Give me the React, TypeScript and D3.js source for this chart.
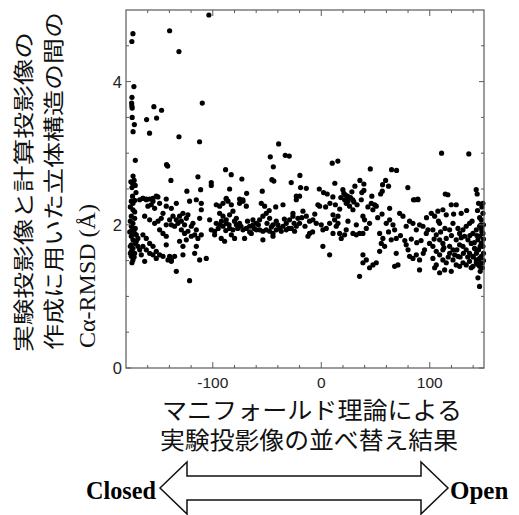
import React from 'react';
import { scaleLinear, range } from 'd3';

const width = 519;
const height = 515;
const margin = { top: 10, right: 35, bottom: 147, left: 126 };

// RMSD (Å) per re-ordered image position
const upperPoints: [number, number][] = [
  [-174.6, 4.56], [-173.6, 4.67], [-172.7, 3.93], [-174.5, 3.78], [-174.8, 3.7], [-174.6, 3.66],
  [-174.3, 3.63], [-174.3, 3.5], [-172.3, 3.4], [-173.5, 3.3], [-171.4, 2.9], [-161, 3.47],
  [-158.3, 3.28], [-154.3, 3.65], [-151.8, 3.49], [-147.2, 3.6], [-139.8, 4.71], [-131.2, 4.42],
  [-131.2, 3.23], [-109.7, 3.7], [-112.2, 3.16], [-103.6, 4.93], [-142.6, 2.84], [-141.6, 2.82],
  [-138.6, 2.62], [-123.9, 2.47], [-113.7, 2.67], [-111.2, 2.49], [-101.4, 2.59], [-101.4, 2.55],
  [-88.2, 2.77], [-83, 2.7], [-84.5, 2.5], [-73.2, 2.64], [-68.8, 2.44], [-54.4, 2.47], [-47, 2.95],
  [-44.2, 2.81], [-39.3, 3.13], [-45.5, 2.63], [-43.7, 2.61], [-33.2, 2.97], [-29.5, 2.96],
  [-27.7, 2.59], [-19.7, 2.69], [-19.1, 2.52], [-13.8, 2.51], [-23, 2.4], [-1.8, 2.5], [2.1, 2.45],
  [5.5, 2.43], [10.1, 2.86], [15.3, 2.89], [12.5, 2.58], [10.7, 2.39], [19.9, 2.49], [20.8, 2.44],
  [24.2, 2.4], [28.2, 2.46], [31, 2.54], [35.6, 2.62], [39.3, 2.57], [39.3, 2.48], [37.4, 2.45],
  [45.2, 2.78], [46.6, 2.4], [54.7, 2.43], [56.2, 2.47], [56.5, 2.56], [59.3, 2.62], [62, 2.54],
  [64.8, 2.77], [69.4, 2.76], [79.8, 2.52], [85, 2.35], [89, 2.36], [110.9, 3.0], [114.3, 2.43],
  [136, 2.99], [142.8, 2.49], [143.7, 2.43],
  [-175.5, 2.6], [-174, 2.58], [-172.5, 2.62], [-173.5, 2.68], [-171.5, 2.55], [-174.5, 2.52],
  [-164.4, 2.37], [-161.3, 2.36], [-155.2, 2.37], [-150.6, 2.39], [-142.9, 2.36],
  [-87.6, 2.36], [-75.3, 2.36], [-72.3, 2.35], [23, 2.35], [29.1, 2.35], [36.9, 2.35],
];

const leftEdge: [number, number][] = [
  [-175.1, 2.33], [-173.6, 2.3], [-172, 2.34], [-173.6, 2.21], [-175.1, 2.12], [-172, 2.09],
  [-173.6, 2.02], [-175.1, 1.98], [-174.2, 1.93], [-172, 1.88], [-175.1, 1.84], [-173.6, 1.79],
  [-171.2, 1.74], [-175.1, 1.72], [-173.6, 1.67], [-175.1, 1.63], [-172, 1.6], [-175.1, 1.56],
  [-173.6, 1.51], [-174.5, 1.47], [-170.5, 1.86], [-170.5, 1.77], [-169, 1.81], [-169, 1.7],
  [-167.4, 1.65], [-176, 2.25], [-176, 2.05], [-176.5, 1.9], [-176, 1.7], [-176, 1.6],
  [-172, 2.18], [-171.5, 1.95], [-172.5, 1.55], [-174, 2.4], [-170.8, 2.45],
];

const bandClosed: [number, number][] = [
  [-167.4, 2.35], [-164.4, 2.37], [-161.3, 2.35], [-158.2, 2.36], [-155.1, 2.33], [-152.1, 2.4],
  [-159.8, 2.26], [-156.7, 2.28], [-153.6, 2.23], [-149, 2.3], [-145.9, 2.16], [-142.9, 2.26],
  [-162.8, 2.12], [-158.2, 2.07], [-153.6, 2.02], [-150.5, 2.05], [-147.5, 2.09], [-142.9, 2.0],
  [-139.8, 2.07], [-149, 1.93], [-145.9, 1.88], [-142.9, 1.84], [-164.4, 1.86], [-161.3, 1.81],
  [-158.2, 1.74], [-155.1, 1.7], [-152.1, 1.63], [-149, 1.58], [-145.9, 1.56], [-164.4, 1.7],
  [-161.3, 1.65], [-158.2, 1.6], [-155.1, 1.58], [-152.1, 1.53], [-165.9, 1.58], [-162.8, 1.49],
  [-142.9, 1.72], [-139.8, 1.56], [-141.3, 1.51], [-138.2, 1.49], [-133.6, 1.35], [-121.4, 1.22],
  [-136.7, 2.12], [-133.6, 2.07], [-130.6, 2.12], [-127.5, 2.16], [-138.2, 2.0], [-135.2, 1.98],
  [-132.1, 2.02], [-129, 2.05], [-126, 2.0], [-124.4, 2.09], [-122.9, 2.14], [-119.8, 1.98],
  [-118.3, 2.02], [-115.2, 1.93], [-112.1, 2.09], [-110.6, 2.21], [-129, 1.93], [-126, 1.88],
  [-122.9, 1.91], [-119.8, 1.84], [-116.7, 1.86], [-113.7, 1.81], [-130.6, 1.77], [-127.5, 1.7],
  [-124.4, 1.79], [-115.2, 1.7], [-116.7, 1.6], [-112.1, 1.51], [-106, 1.53], [-135.2, 1.56],
  [-138.2, 1.51], [-127.5, 1.58], [-110.6, 1.86], [-102.9, 2.07], [-101.4, 1.93], [-98.3, 1.91],
  [-121.4, 2.33], [-115.2, 2.35], [-110.6, 2.3], [-138.2, 2.23], [-133.6, 2.3],
];

const bandMiddle: [number, number][] = [
  [-96.8, 2.28], [-93.7, 2.26], [-90.6, 2.3], [-87.6, 2.37], [-86, 2.33], [-82.9, 2.28],
  [-93.7, 2.16], [-90.6, 2.12], [-87.6, 2.07], [-84.5, 2.14], [-81.4, 2.19], [-78.3, 2.09],
  [-75.3, 2.3], [-72.2, 2.33], [-69.1, 2.26], [-96.8, 2.02], [-93.7, 2.0], [-90.6, 1.98],
  [-87.6, 2.02], [-84.5, 1.95], [-81.4, 1.93], [-78.3, 2.0], [-75.3, 2.02], [-72.2, 1.93],
  [-69.1, 1.95], [-66.1, 1.98], [-63, 2.0], [-59.9, 2.02], [-92.2, 1.81], [-89.1, 1.77],
  [-79.9, 1.81], [-82.9, 1.86], [-70.7, 1.81], [-64.5, 1.88], [-63, 2.07], [-59.9, 1.93],
  [-98.3, 1.86], [-95, 1.95], [-88, 1.92], [-85, 2.0], [-77, 1.95], [-74, 1.98], [-68, 2.05],
  [-66, 1.9], [-62, 1.95], [-92, 2.05], [-80, 2.05],
  [-56.8, 2.07], [-53.8, 2.12], [-50.7, 2.16], [-47.6, 2.09], [-44.5, 2.0], [-41.5, 2.05],
  [-38.4, 1.95], [-35.3, 1.98], [-32.3, 2.02], [-29.2, 2.07], [-26.1, 2.12], [-23, 1.98],
  [-56.8, 1.93], [-53.8, 1.91], [-50.7, 1.93], [-47.6, 1.91], [-44.5, 1.88], [-41.5, 1.93],
  [-36.9, 1.91], [-32.3, 1.93], [-27.6, 1.95], [-24.6, 1.91], [-53.8, 1.79], [-44.5, 1.84],
  [-35.3, 2.28], [-55.3, 2.3], [-52.2, 2.26], [-26.1, 2.16], [-23, 2.35], [-20, 2.4],
  [-21.5, 2.09], [-58, 2.0], [-50, 2.02], [-46, 1.97], [-40, 2.0], [-34, 2.08], [-30, 1.95],
  [-25, 2.02], [-48, 2.2], [-42, 2.25],
  [-16.9, 2.19], [-13.8, 2.12], [-10.8, 2.05], [-7.7, 2.07], [-4.6, 2.02], [-1.5, 2.26],
  [-3.1, 2.28], [0, 2.0], [1.5, 1.93], [4.6, 1.95], [7.7, 2.02], [10.8, 2.14], [12.3, 2.07],
  [15.4, 2.12], [13.8, 1.98], [16.9, 1.88], [10.8, 1.88], [-10.8, 1.88], [-12.3, 1.84],
  [1.5, 1.7], [7.7, 1.58], [-20, 2.02], [15.4, 2.02], [18.4, 1.81], [21.5, 1.86], [-15, 1.98],
  [-8, 1.9], [-18, 2.1], [4, 2.25], [8, 2.3], [13, 2.28], [17, 2.22], [-6, 2.15],
];

const bandOpen: [number, number][] = [
  [21.5, 2.35], [23, 2.3], [24.6, 2.33], [26.1, 2.26], [29.2, 2.21], [24.6, 2.05], [23, 1.93],
  [29.2, 1.88], [32.3, 1.86], [35.3, 1.88], [38.4, 1.88], [41.5, 1.95], [38.4, 2.12],
  [39.9, 2.07], [44.5, 2.02], [47.6, 2.21], [50.7, 2.26], [46.1, 2.3], [49.2, 2.28],
  [38.4, 1.58], [41.5, 1.51], [38.4, 1.47], [44.5, 1.4], [47.6, 1.44], [50.7, 1.47],
  [53.8, 1.63], [55.3, 1.74], [56.8, 1.81], [58.4, 1.7], [59.9, 2.02], [53.8, 1.88],
  [35.3, 1.28], [32.3, 2.0], [27, 2.38], [30, 2.32], [33, 2.28], [22, 2.42], [18, 2.38],
  [52, 2.1], [56, 2.15], [43, 2.25],
  [63, 2.07], [66.1, 2.0], [67.6, 1.93], [64.5, 1.79], [69.1, 1.81], [72.2, 2.16], [75.3, 2.12],
  [78.3, 1.98], [81.4, 2.05], [84.5, 2.02], [87.6, 1.93], [90.6, 2.0], [93.7, 1.98],
  [96.8, 1.88], [98.3, 1.93], [69.1, 1.6], [67.6, 1.42], [70.7, 1.44], [81.4, 1.56],
  [84.5, 1.53], [87.6, 1.58], [90.6, 1.51], [90.6, 1.37], [95.2, 1.65], [99.8, 1.74],
  [78.3, 1.72], [86, 2.35], [89.1, 2.35], [63, 2.23], [73, 1.85], [77, 1.78], [83, 1.8],
  [92, 1.78], [97, 2.1], [62, 1.9], [80, 1.65], [88, 1.75], [94, 1.6],
];

const rightEdge: [number, number][] = [
  [101.4, 2.16], [104.5, 2.12], [107.5, 2.19], [102.9, 1.93], [106, 1.86], [109.1, 1.79],
  [112.1, 1.74], [115.2, 1.81], [118.3, 1.7], [121.4, 1.65], [124.4, 1.79], [127.5, 1.72],
  [130.6, 1.7], [133.6, 1.65], [136.7, 1.6], [139.8, 1.56], [142.9, 1.51], [145.9, 1.53],
  [102.9, 1.7], [106, 1.63], [109.1, 1.58], [112.1, 1.51], [115.2, 1.47], [118.3, 1.6],
  [121.4, 1.51], [124.4, 1.44], [127.5, 1.42], [130.6, 1.47], [133.6, 1.44], [136.7, 1.49],
  [139.8, 1.42], [142.9, 1.47], [145.9, 1.42], [104.5, 1.4], [113.7, 1.37], [109.1, 1.33],
  [119.8, 1.35], [122.9, 1.58], [127.5, 1.88], [130.6, 1.93], [133.6, 1.98], [136.7, 2.02],
  [139.8, 1.88], [142.9, 1.93], [145.9, 1.98], [147.5, 2.07], [149, 2.16], [145.9, 1.84],
  [147.5, 1.74], [149, 1.7], [144.4, 1.79], [141.3, 1.67], [138.2, 1.74], [135.2, 1.79],
  [132.1, 1.84], [118.3, 1.93], [121.4, 2.02], [115.2, 2.14], [112.1, 2.21], [109.1, 2.02],
  [116.7, 2.42], [119.8, 2.28], [124.4, 2.28], [129, 2.16], [144.4, 1.26], [145.9, 1.14],
  [147.5, 1.56], [148.4, 1.47], [149, 1.88], [147.5, 1.95], [142.9, 1.65], [138.2, 1.4],
  [126, 1.56], [112.1, 1.65], [102.9, 1.53], [106, 1.44],
  [144, 2.2], [146, 2.1], [148, 2.25], [149.5, 2.0], [149.5, 1.8], [149.5, 1.6], [148.5, 1.4],
  [146.5, 1.35], [143, 1.6], [141, 1.75], [143.5, 1.85], [145, 1.65], [147, 1.5], [149, 2.3],
  [148, 1.9], [146.5, 1.7], [140, 1.55], [144, 1.45], [149.5, 1.5], [147, 2.0], [145, 2.3],
  [110, 1.9], [114, 1.95], [117, 1.55], [125, 1.65], [128, 1.55], [131, 1.6], [135, 1.55],
  [137, 1.85], [120, 1.85], [126, 1.95], [104, 1.8], [108, 2.05], [134, 2.2], [139, 2.05],
  [122, 2.15], [113, 1.68], [129, 1.82],
];

const points = [...upperPoints, ...leftEdge, ...bandClosed, ...bandMiddle, ...bandOpen, ...rightEdge];

const xMajor = [-100, 0, 100];
const yMajor = [0, 2, 4];

const yTitleLines = ['実験投影像と計算投影像の', '作成に用いた立体構造の間の'];
const yTitleUnit = 'Cα-RMSD (Å)';
const xTitleLines = ['マニフォールド理論による', '実験投影像の並べ替え結果'];

const frameColor = '#5a5a5a';
const tickFont = '"Liberation Sans", Arial, sans-serif';
const cjkFont = '"Noto Sans CJK JP", "Noto Sans", sans-serif';
const serif = '"Liberation Serif", "Times New Roman", serif';

export default function App() {
  const innerWidth = width - margin.left - margin.right;
  const innerHeight = height - margin.top - margin.bottom;

  const xScale = scaleLinear().domain([-180, 150]).range([0, innerWidth]);
  const yScale = scaleLinear().domain([0, 5]).range([innerHeight, 0]);

  const xMinor = range(-160, 150, 20).filter(v => !xMajor.includes(v));
  const yMinor = range(0.5, 5, 0.5).filter(v => !yMajor.includes(v));

  // the double arrow under the axis title
  const arrowY = 488;
  const ax0 = 160, ax1 = 448, head = 27, shaft = 12, flare = 26;
  const arrowPath = [
    `M${ax0},${arrowY}`,
    `L${ax0 + head},${arrowY - flare}`,
    `L${ax0 + head},${arrowY - shaft}`,
    `L${ax1 - head},${arrowY - shaft}`,
    `L${ax1 - head},${arrowY - flare}`,
    `L${ax1},${arrowY}`,
    `L${ax1 - head},${arrowY + flare}`,
    `L${ax1 - head},${arrowY + shaft}`,
    `L${ax0 + head},${arrowY + shaft}`,
    `L${ax0 + head},${arrowY + flare}`,
    'Z',
  ].join(' ');

  return (
    <svg width={width} height={height} style={{ position: 'absolute', left: 0, top: 0, background: '#fff' }}>
      <g transform={`translate(${margin.left},${margin.top})`}>
        {points.map((d, i) => (
          <circle key={i} cx={xScale(d[0])} cy={yScale(d[1])} r={2.6} fill="#000" />
        ))}

        <rect x={0} y={0} width={innerWidth} height={innerHeight} fill="none" stroke={frameColor} strokeWidth={1.2} />

        {xMinor.map(v => (
          <g key={`xm${v}`} stroke={frameColor}>
            <line x1={xScale(v)} x2={xScale(v)} y1={innerHeight} y2={innerHeight - 3} />
            <line x1={xScale(v)} x2={xScale(v)} y1={0} y2={3} />
          </g>
        ))}
        {xMajor.map(v => (
          <g key={`xM${v}`}>
            <line x1={xScale(v)} x2={xScale(v)} y1={innerHeight} y2={innerHeight - 6} stroke={frameColor} />
            <line x1={xScale(v)} x2={xScale(v)} y1={0} y2={6} stroke={frameColor} />
            <text x={xScale(v)} y={innerHeight + 20} textAnchor="middle" fontFamily={tickFont} fontSize={15.5} fill="#222">
              {v}
            </text>
          </g>
        ))}
        {yMinor.map(v => (
          <g key={`ym${v}`} stroke={frameColor}>
            <line x1={0} x2={3} y1={yScale(v)} y2={yScale(v)} />
            <line x1={innerWidth} x2={innerWidth - 3} y1={yScale(v)} y2={yScale(v)} />
          </g>
        ))}
        {yMajor.map(v => (
          <g key={`yM${v}`}>
            <line x1={0} x2={5} y1={yScale(v)} y2={yScale(v)} stroke={frameColor} />
            <line x1={innerWidth} x2={innerWidth - 5} y1={yScale(v)} y2={yScale(v)} stroke={frameColor} />
            <text x={-4} y={yScale(v)} dy="0.36em" textAnchor="end" fontFamily={tickFont} fontSize={16.5} fill="#222">
              {v}
            </text>
          </g>
        ))}
      </g>

      {/* y-axis title, rotated, start-aligned at the bottom */}
      <g transform="translate(0,352) rotate(-90)">
        <text x={0} y={31} fontFamily={cjkFont} fontSize={21} fill="#111" textLength={320} lengthAdjust="spacingAndGlyphs">
          {yTitleLines[0]}
        </text>
        <text x={2} y={61} fontFamily={cjkFont} fontSize={21} fill="#111" textLength={338} lengthAdjust="spacingAndGlyphs">
          {yTitleLines[1]}
        </text>
        <text x={4} y={95} fontFamily={serif} fontSize={24} fill="#111">
          {yTitleUnit}
        </text>
      </g>

      {/* x-axis title */}
      <text x={312} y={419} textAnchor="middle" fontFamily={cjkFont} fontSize={23.5} fill="#111" textLength={300} lengthAdjust="spacingAndGlyphs">
        {xTitleLines[0]}
      </text>
      <text x={309} y={449} textAnchor="middle" fontFamily={cjkFont} fontSize={23.5} fill="#111" textLength={298} lengthAdjust="spacingAndGlyphs">
        {xTitleLines[1]}
      </text>

      <path d={arrowPath} fill="#fff" stroke="#111" strokeWidth={1.5} />
      <text x={156} y={499} textAnchor="end" fontFamily={serif} fontWeight="bold" fontSize={25} fill="#000" textLength={70} lengthAdjust="spacingAndGlyphs">
        Closed
      </text>
      <text x={450} y={499} fontFamily={serif} fontWeight="bold" fontSize={25} fill="#000">
        Open
      </text>
    </svg>
  );
}
